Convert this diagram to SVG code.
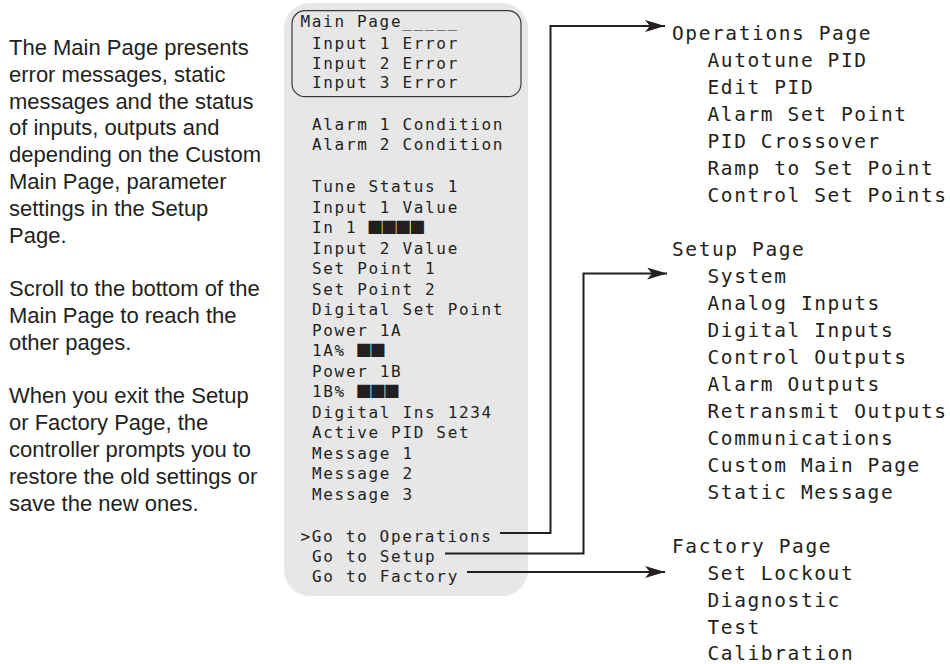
<svg xmlns="http://www.w3.org/2000/svg" width="950" height="664" viewBox="0 0 950 664">
<style>
.para{font-family:"Liberation Sans",Arial,sans-serif;font-size:22px;fill:#231f20}
.lcd{font-family:"DejaVu Sans Mono",monospace;font-size:16px;letter-spacing:1.67px;fill:#231f20}
.blk{font-family:"DejaVu Sans Mono",monospace;font-size:22px;letter-spacing:0.8px}
.menu{font-family:"DejaVu Sans Mono",monospace;font-size:19.5px;letter-spacing:1.6px;fill:#231f20}
.conn{fill:none;stroke:#231f20;stroke-width:2}
</style>
<defs>
<marker id="ah" viewBox="0 0 20 12" refX="20" refY="6" markerWidth="20" markerHeight="12" markerUnits="userSpaceOnUse" orient="auto">
<path d="M0,0 L20,6 L0,12 L5,6 Z" fill="#231f20"/>
</marker>
</defs>
<rect width="950" height="664" fill="#ffffff"/>
<g id="description" class="para">
<text x="9" y="55">The Main Page presents</text>
<text x="9" y="81.8">error messages, static</text>
<text x="9" y="108.6">messages and the status</text>
<text x="9" y="135.4">of inputs, outputs and</text>
<text x="9" y="162.2">depending on the Custom</text>
<text x="9" y="189">Main Page, parameter</text>
<text x="9" y="215.8">settings in the Setup</text>
<text x="9" y="242.6">Page.</text>
<text x="9" y="296.2">Scroll to the bottom of the</text>
<text x="9" y="323">Main Page to reach the</text>
<text x="9" y="349.8">other pages.</text>
<text x="9" y="403.4">When you exit the Setup</text>
<text x="9" y="430.2">or Factory Page, the</text>
<text x="9" y="457">controller prompts you to</text>
<text x="9" y="483.8">restore the old settings or</text>
<text x="9" y="510.6">save the new ones.</text>
</g>
<g id="main-page">
<rect x="284" y="3" width="244" height="593" rx="26" fill="#e7e7e8"/>
<rect x="292" y="10.7" width="229" height="86" rx="13" fill="none" stroke="#3a3a3a" stroke-width="1.2"/>
<g class="lcd">
<text x="300.5" y="27">Main Page_____</text>
<text x="312" y="48.5">Input 1 Error</text>
<text x="312" y="68.5">Input 2 Error</text>
<text x="312" y="88">Input 3 Error</text>
<text x="312" y="130">Alarm 1 Condition</text>
<text x="312" y="150">Alarm 2 Condition</text>
<text x="312" y="192">Tune Status 1</text>
<text x="312" y="212.5">Input 1 Value</text>
<text x="312" y="233.1">In 1 <tspan class="blk">■■■■</tspan></text>
<text x="312" y="253.6">Input 2 Value</text>
<text x="312" y="274.1">Set Point 1</text>
<text x="312" y="294.7">Set Point 2</text>
<text x="312" y="315.2">Digital Set Point</text>
<text x="312" y="335.7">Power 1A</text>
<text x="312" y="356.2">1A% <tspan class="blk">■■</tspan></text>
<text x="312" y="376.8">Power 1B</text>
<text x="312" y="397.3">1B% <tspan class="blk">■■■</tspan></text>
<text x="312" y="417.8">Digital Ins 1234</text>
<text x="312" y="438.4">Active PID Set</text>
<text x="312" y="458.9">Message 1</text>
<text x="312" y="479.4">Message 2</text>
<text x="312" y="500">Message 3</text>
<text x="300.5" y="541.7">&gt;Go to Operations</text>
<text x="312" y="562">Go to Setup</text>
<text x="312" y="582">Go to Factory</text>
</g>
</g>
<g id="operations-page" class="menu">
<text x="672" y="40">Operations Page</text>
<text x="707.5" y="67">Autotune PID</text>
<text x="707.5" y="94">Edit PID</text>
<text x="707.5" y="121">Alarm Set Point</text>
<text x="707.5" y="148">PID Crossover</text>
<text x="707.5" y="175">Ramp to Set Point</text>
<text x="707.5" y="202">Control Set Points</text>
</g>
<g id="setup-page" class="menu">
<text x="672" y="256">Setup Page</text>
<text x="707.5" y="283">System</text>
<text x="707.5" y="310">Analog Inputs</text>
<text x="707.5" y="337">Digital Inputs</text>
<text x="707.5" y="364">Control Outputs</text>
<text x="707.5" y="391">Alarm Outputs</text>
<text x="707.5" y="418">Retransmit Outputs</text>
<text x="707.5" y="445">Communications</text>
<text x="707.5" y="472">Custom Main Page</text>
<text x="707.5" y="499">Static Message</text>
</g>
<g id="factory-page" class="menu">
<text x="672" y="553">Factory Page</text>
<text x="707.5" y="580">Set Lockout</text>
<text x="707.5" y="607">Diagnostic</text>
<text x="707.5" y="634">Test</text>
<text x="707.5" y="660">Calibration</text>
</g>
<g id="connectors" class="conn">
<polyline points="500,533 550.5,533 550.5,26 665,26" marker-end="url(#ah)"/>
<polyline points="445,553.5 583.5,553.5 583.5,273.5 667,273.5" marker-end="url(#ah)"/>
<polyline points="467,572 665,572" marker-end="url(#ah)"/>
</g>
</svg>
